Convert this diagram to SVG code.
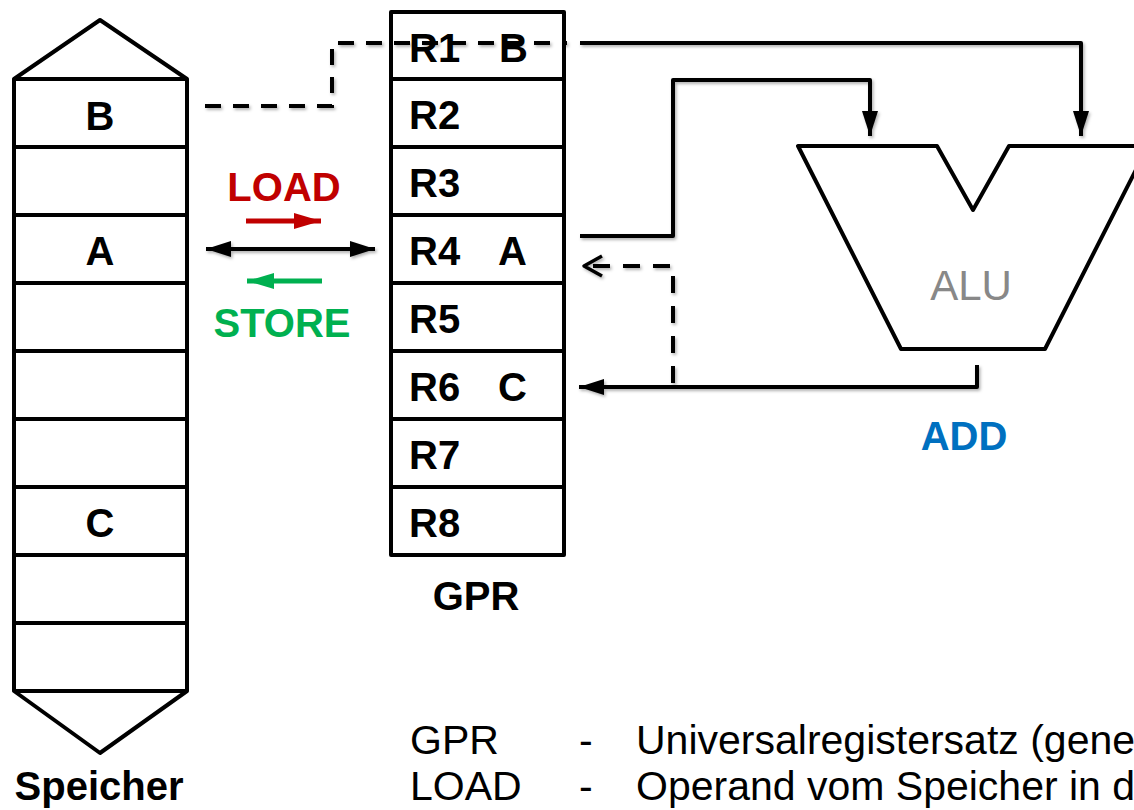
<svg xmlns="http://www.w3.org/2000/svg" width="1134" height="810" viewBox="0 0 1134 810">
<defs>
<style>
.box{fill:#fff;stroke:#000;stroke-width:4;stroke-linejoin:round}
.ln{fill:none;stroke:#000;stroke-width:4}
.ln2{fill:none;stroke:#000;stroke-width:4;stroke-linejoin:round}
.dash{fill:none;stroke:#000;stroke-width:4;stroke-dasharray:16 12}
.b{font-family:"Liberation Sans",Arial,sans-serif;font-weight:bold;font-size:40px;fill:#000}
.r{font-family:"Liberation Sans",Arial,sans-serif;font-size:41px;fill:#000}
</style>
<marker id="ah" markerUnits="userSpaceOnUse" markerWidth="26" markerHeight="18" refX="25" refY="8" orient="auto-start-reverse">
<path d="M0,0 L25,8 L0,16 Z" fill="#000"/>
</marker>
<marker id="ahr" markerUnits="userSpaceOnUse" markerWidth="28" markerHeight="18" refX="27" refY="8" orient="auto">
<path d="M0,0 L27,8 L0,16 Z" fill="#C00000"/>
</marker>
<marker id="ahg" markerUnits="userSpaceOnUse" markerWidth="28" markerHeight="18" refX="27" refY="8" orient="auto">
<path d="M0,0 L27,8 L0,16 Z" fill="#00B050"/>
</marker>
<filter id="sh" x="-10%" y="-10%" width="130%" height="130%">
<feDropShadow dx="1.5" dy="2" stdDeviation="1.5" flood-color="#000" flood-opacity="0.3"/>
</filter>
</defs>

<g id="speicher">
<polygon class="box" points="100,20 187,79 187,691 100,753 14,691 14,79"/>
<line class="ln" x1="14" y1="79" x2="187" y2="79"/>
<line class="ln" x1="14" y1="147" x2="187" y2="147"/>
<line class="ln" x1="14" y1="215" x2="187" y2="215"/>
<line class="ln" x1="14" y1="283" x2="187" y2="283"/>
<line class="ln" x1="14" y1="351" x2="187" y2="351"/>
<line class="ln" x1="14" y1="419" x2="187" y2="419"/>
<line class="ln" x1="14" y1="487" x2="187" y2="487"/>
<line class="ln" x1="14" y1="555" x2="187" y2="555"/>
<line class="ln" x1="14" y1="623" x2="187" y2="623"/>
<line class="ln" x1="14" y1="691" x2="187" y2="691"/>
<text class="b" x="100" y="130" text-anchor="middle">B</text>
<text class="b" x="100" y="265" text-anchor="middle">A</text>
<text class="b" x="100" y="537" text-anchor="middle">C</text>
<text class="b" x="99" y="800" text-anchor="middle" font-size="41">Speicher</text>
</g>

<g id="gpr">
<rect class="box" x="391" y="12" width="173" height="543"/>
<line class="ln" x1="391" y1="79" x2="564" y2="79"/>
<line class="ln" x1="391" y1="147" x2="564" y2="147"/>
<line class="ln" x1="391" y1="215" x2="564" y2="215"/>
<line class="ln" x1="391" y1="283" x2="564" y2="283"/>
<line class="ln" x1="391" y1="351" x2="564" y2="351"/>
<line class="ln" x1="391" y1="419" x2="564" y2="419"/>
<line class="ln" x1="391" y1="487" x2="564" y2="487"/>
<text class="b" x="409" y="62">R1</text>
<text class="b" x="499" y="62">B</text>
<text class="b" x="409" y="129">R2</text>
<text class="b" x="409" y="197">R3</text>
<text class="b" x="409" y="265">R4</text>
<text class="b" x="498" y="265">A</text>
<text class="b" x="409" y="333">R5</text>
<text class="b" x="409" y="401">R6</text>
<text class="b" x="498" y="401">C</text>
<text class="b" x="409" y="469">R7</text>
<text class="b" x="409" y="537">R8</text>
<text class="b" x="476" y="610" text-anchor="middle">GPR</text>
</g>

<g id="alu">
<polygon class="box" points="798,146 937,146 973,210 1009,146 1148,146 1045,349 901,349"/>
<text x="971" y="300" text-anchor="middle" font-family="'Liberation Sans',Arial,sans-serif" font-size="42" fill="#888888">ALU</text>
<text class="b" x="964" y="450" text-anchor="middle" style="fill:#0070C0">ADD</text>
</g>

<g id="load-store">
<text class="b" x="284" y="201" text-anchor="middle" style="fill:#C00000">LOAD</text>
<text class="b" x="282" y="337" text-anchor="middle" style="fill:#00B050">STORE</text>
</g>

<g id="connectors">
<g filter="url(#sh)">
<path class="dash" d="M205,106 H332 V43 H567"/>
<path class="ln2" d="M580,43 H1081 V136" marker-end="url(#ah)"/>
<path class="ln2" d="M580,236 H673 V80 H870 V136" marker-end="url(#ah)"/>
<path class="ln2" d="M977,365 V387 H579" marker-end="url(#ah)"/>
<path class="dash" d="M673,383 V266 H588" style="stroke-dasharray:17 13"/>
<path class="ln2" d="M602,256 L584,266 L602,276" style="stroke-width:3.5"/>
<line class="ln" x1="206" y1="249" x2="375" y2="249" marker-start="url(#ah)" marker-end="url(#ah)"/>
</g>
<line x1="246" y1="221" x2="321" y2="221" stroke="#C00000" stroke-width="5" marker-end="url(#ahr)"/>
<line x1="322" y1="281" x2="247" y2="281" stroke="#00B050" stroke-width="5" marker-end="url(#ahg)"/>
</g>

<g id="legend">
<text class="r" x="410" y="754">GPR</text>
<text class="r" x="579" y="754">-</text>
<text class="r" x="636" y="754">Universalregistersatz (gene</text>
<text class="r" x="410" y="800">LOAD</text>
<text class="r" x="579" y="800">-</text>
<text class="r" x="636" y="800">Operand vom Speicher in d</text>
</g>
</svg>
